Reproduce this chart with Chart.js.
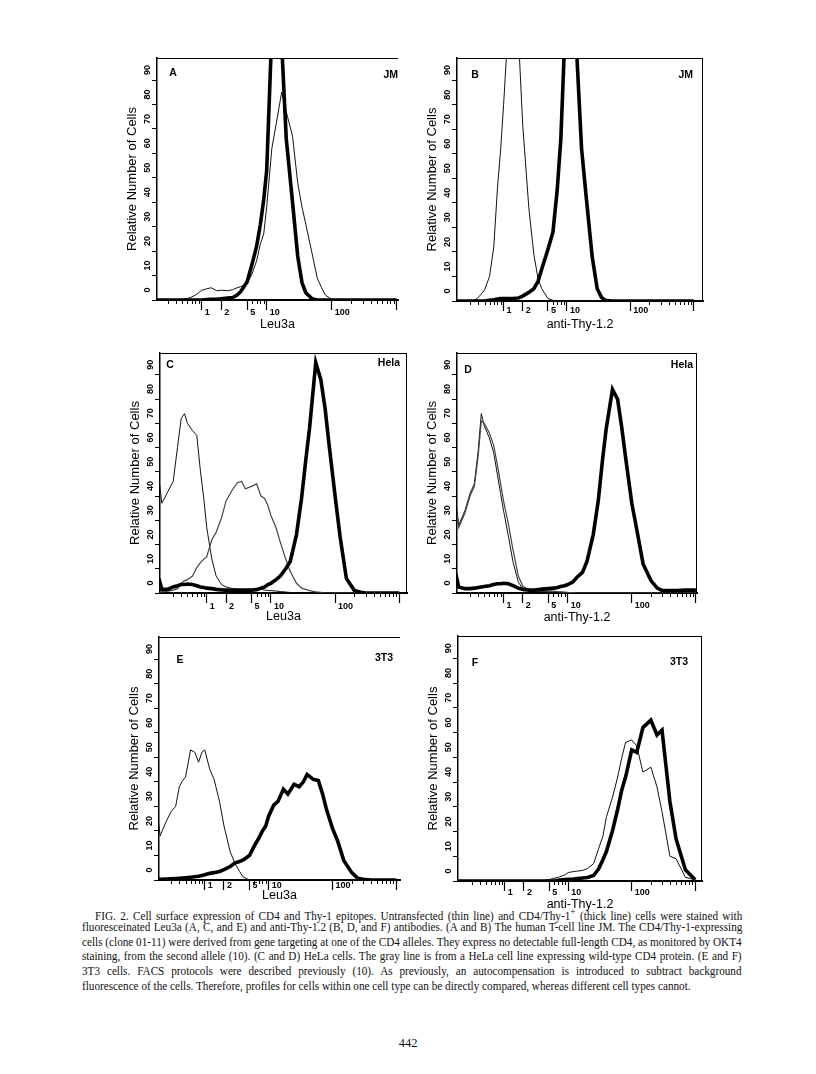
<!DOCTYPE html>
<html>
<head>
<meta charset="utf-8">
<script src="https://cdn.jsdelivr.net/npm/chart.js@4.4.0/dist/chart.umd.min.js"></script>
<style>
  body { margin: 0; background: #fff; width: 816px; height: 1074px; position: relative; overflow: hidden; }
  canvas { position: absolute; }
  #caption { position: absolute; left: 82px; top: 905px; width: 660px; font-family: 'Liberation Serif', 'Times New Roman', serif; font-size: 12px; line-height: 14.8px; color: #111; }
  .ln { white-space: nowrap; height: 14.8px; }
  .ln span { display: inline-block; transform-origin: 0 0; }
  #page { position: absolute; left: 0; width: 816px; top: 1036px; text-align: center; font-family: 'Liberation Serif', serif; font-size: 12.5px; color: #111; }
</style>
</head>
<body>
<div id="caption"></div>
<div id="page">442</div>
<script>
// fluorescence intensity (x) shared by every histogram
const intensity = [0.18, 0.2, 0.25, 0.3, 0.35, 0.4, 0.45, 0.5, 0.6, 0.7,
  0.8, 0.9, 1, 1.2, 1.4, 1.7, 2, 2.5, 3, 3.5,
  4, 5, 6, 7, 8, 9, 10, 12, 14, 17,
  20, 25, 30, 35, 40, 50, 60, 70, 80, 100,
  120, 150, 200, 250, 300, 400, 500, 700, 1000];

// relative number of cells, one array per curve
const jmLeu3aThin = [0,0,0,0,0,0,0.2,0.3,0.6,1.2, 2,3,4,4.6,5,3.8,4,3.8,4.2,5, 5.5,6.5,11,16,23,27,38,62,72,85, 77,67,48,38,31,19,9,5,2,0.3, 0,0,0,0,0,0,0,0,0];
const jmLeu3aThick = [0,0,0,0,0,0,0,0,0,0, 0,0,0,0.2,0.3,0.3,0.5,0.8,1,2, 3.5,7.5,15,22,31,41,53,110,110,105, 66,40,18,7,3,0.5,0,0,0,0, 0,0,0,0,0,0,0,0,0];
const jmThyThin = [0,0,0,0,0.3,1.5,3,4.5,10,22, 46,62,80,115,115,110,72,38,19,9, 5,1,0.3,0,0,0,0,0,0,0, 0,0,0,0,0,0,0,0,0,0, 0,0,0,0,0,0,0,0,0];
const jmThyThick = [0,0,0,0,0,0,0,0,0.3,0.5, 0.8,1,1,1,1,1.2,2,3.5,5,8, 13,21,28,45,66,100,110,110,105,62, 43,18,5,1.5,0.3,0,0,0,0,0, 0,0,0,0,0,0,0,0,0];
const helaLeu3aThin = [47,37,42,46,60,72,74,70,67,65, 50,39,27,14,7,3.5,2.5,1.8,1.5,1.5, 1.5,1.5,1.5,1.5,1.2,1,1,0.8,0.6,0.4, 0.2,0,0,0,0,0,0,0,0,0, 0,0,0,0,0,0,0,0,0];
const helaLeu3aGray = [0.5,0.5,0.8,1.2,1.8,4,5,5.5,7,10.5, 12.5,14,15,22,25,31,38,42.5,45.5,46, 43,44,45,40,39,36,32,27,21,14, 9,4,2,1.5,1,0.5,0.3,0,0,0, 0,0,0,0,0,0,0,0,0];
const helaLeu3aThick = [6,1.5,1.6,2.5,3,3.5,3.5,3.7,3.5,3, 2.5,2.3,2,1.8,1.5,1.3,1.2,1.2,1.2,1.2, 1.2,1.2,1.4,2,2.5,3.5,4,5.5,7,10, 13,24,39,55,68,95,88,76,62,40, 23,6,1,0.3,0,0,0,0,0];
const helaThyThin = [38,28,34,41,45,58,74,69,64,58, 49,41,34,23,13,4.5,1.6,1,0.8,0.7, 0.6,0.5,0.4,0.3,0.3,0.2,0,0,0,0, 0,0,0,0,0,0,0,0,0,0, 0,0,0,0,0,0,0,0,0];
const helaThyGray = [36,27,33,40,44,56,71,70,66,61, 53,45,38,28,18,7,2.8,1.3,1.2,1, 1,0.8,0.8,0.6,0.5,0.4,0.3,0.2,0,0, 0,0,0,0,0,0,0,0,0,0, 0,0,0,0,0,0,0,0,0];
const helaThyThick = [8,2.5,1.8,1.8,2,2.3,2.5,2.7,3,3.5, 3.8,3.8,4,3.8,3,2,1.5,1.2,1.2,1.4, 1.6,1.8,2,2.3,2.8,3,3.5,4.5,6.5,8.5, 13,24,38,55,68,84,80,68,56,37, 26,12,5,2,1,1,1,1.2,1.2];
const t3Leu3aThin = [28,18,24,28,30,38,40.5,42,53,52, 48,52,53,45,41,32,22,11.5,6.6,3.5, 1.2,0,0,0,0,0,0,0,0,0, 0,0,0,0,0,0,0,0,0,0, 0,0,0,0,0,0,0,0,0];
const t3Leu3aThick = [0.3,0.3,0.4,0.5,0.6,0.7,0.8,0.9,1.1,1.3, 1.5,1.8,2.1,2.7,3,3.5,4.2,5.5,7,7.5, 8.2,10,14,17,20,22,26,30.5,32,37, 35,39,38,40,43,41,40.5,35,29,21, 16,8,3,0.7,0.3,0,0,0,0];
const t3ThyThin = [0,0,0,0,0,0,0,0,0,0, 0,0,0,0,0,0,0,0,0,0, 0.2,0.6,1.1,1.5,2,2.6,3.4,3.8,4,4.3, 5,7,13,18,26,34,42,50,56,57, 54.6,44,46,38,28,10,9,1.5,0.5];
const t3ThyThick = [0,0,0,0,0,0,0,0,0,0, 0,0,0,0,0,0,0,0,0,0, 0,0,0,0.3,0.5,0.6,0.7,0.8,1,1.2, 1.4,2.2,4.8,8.5,12,20.5,29,37,42,53, 52,62,65,59,61,32,17,4.5,0.5];

// axis ticks
const majorTicks = [1, 2, 5, 10, 100, 1000];
const minorTicks = [0.3, 0.4, 0.5, 0.6, 0.7, 0.8, 0.9, 6, 7, 8, 9, 200, 300, 400, 500, 600, 700, 800, 900];
const yTicks = [0, 10, 20, 30, 40, 50, 60, 70, 80, 90];

const captionLines = [
  'FIG. 2. Cell surface expression of CD4 and Thy-1 epitopes. Untransfected (thin line) and CD4/Thy-1<sup>+</sup> (thick line) cells were stained with',
  'fluoresceinated Leu3a (A, C, and E) and anti-Thy-1.2 (B, D, and F) antibodies. (A and B) The human T-cell line JM. The CD4/Thy-1-expressing',
  'cells (clone 01-11) were derived from gene targeting at one of the CD4 alleles. They express no detectable full-length CD4, as monitored by OKT4',
  'staining, from the second allele (10). (C and D) HeLa cells. The gray line is from a HeLa cell line expressing wild-type CD4 protein. (E and F)',
  '3T3 cells. FACS protocols were described previously (10). As previously, an autocompensation is introduced to subtract background',
  'fluorescence of the cells. Therefore, profiles for cells within one cell type can be directly compared, whereas different cell types cannot.'
];

const thin = { color: '#111', width: 1 };
const gray = { color: '#444', width: 1.2 };
const thick = { color: '#000', width: 3.6 };

const panels = [
  { letter: 'A', cell: 'JM', xTitle: 'Leu3a', box: [157, 58, 398, 300], xRange: [0.205, 1050], right: false,
    curves: [[jmLeu3aThick, thick], [jmLeu3aThin, thin]], lab: [16, 15, 0, 17], tickPad: -3.3, titleDy: 25 },
  { letter: 'B', cell: 'JM', xTitle: 'anti-Thy-1.2', box: [457, 58, 703, 301], xRange: [0.184, 1400], right: true,
    curves: [[jmThyThick, thick], [jmThyThin, thin]], lab: [18, 17, 10, 17], tickPad: -6, titleDy: 24 },
  { letter: 'C', cell: 'Hela', xTitle: 'Leu3a', box: [160, 353, 407, 593], xRange: [0.187, 1320], right: true,
    curves: [[helaLeu3aThick, thick], [helaLeu3aGray, gray], [helaLeu3aThin, thin]], lab: [10, 12, 7, 10], tickPad: -2.3, titleDy: 24 },
  { letter: 'D', cell: 'Hela', xTitle: 'anti-Thy-1.2', box: [457, 353, 697, 593], xRange: [0.188, 1040], right: true,
    curves: [[helaThyThick, thick], [helaThyGray, gray], [helaThyThin, thin]], lab: [11, 17, 4, 12], tickPad: -3, titleDy: 25 },
  { letter: 'E', cell: '3T3', xTitle: 'Leu3a', box: [159, 637, 400, 880], xRange: [0.192, 1140], right: false,
    curves: [[t3Leu3aThick, thick], [t3Leu3aThin, thin]], lab: [21, 23, 7, 21], tickPad: -10, titleDy: 16 },
  { letter: 'F', cell: '3T3', xTitle: 'anti-Thy-1.2', box: [458, 636, 702, 881], xRange: [0.183, 1280], right: true,
    curves: [[t3ThyThick, thick], [t3ThyThin, thin]], lab: [17, 27, 14, 26], tickPad: -4.3, titleDy: 24 }
];

const AXIS_W = 45, AXIS_H = 40, PAD_T = 10, PAD_R = 12;
const sans = '"Liberation Sans", Arial, sans-serif';

// frame, minor ticks, rotated y labels and panel tags
const decor = {
  id: 'decor',
  afterDraw(chart, args, opts) {
    const { ctx, chartArea: a, scales: { x, y } } = chart;
    ctx.save();
    ctx.strokeStyle = '#000';
    ctx.lineWidth = 1;
    ctx.beginPath();
    ctx.moveTo(a.left, a.top + 0.5);
    ctx.lineTo(a.right, a.top + 0.5);
    if (opts.right) {
      ctx.moveTo(a.right - 0.5, a.top);
      ctx.lineTo(a.right - 0.5, a.bottom);
    }
    minorTicks.forEach(v => {
      const px = Math.round(x.getPixelForValue(v)) + 0.5;
      ctx.moveTo(px, a.bottom);
      ctx.lineTo(px, a.bottom + 4);
    });
    ctx.stroke();

    ctx.fillStyle = '#000';
    ctx.font = 'bold 9px ' + sans;
    ctx.textAlign = 'center';
    ctx.textBaseline = 'middle';
    yTicks.forEach(v => {
      ctx.save();
      ctx.translate(a.left - 9, y.getPixelForValue(v) - 10);
      ctx.rotate(-Math.PI / 2);
      ctx.fillText(String(v), 0, 0);
      ctx.restore();
    });

    const [ldx, ldy, cdx, cdy] = opts.lab;
    ctx.font = 'bold 10.5px ' + sans;
    ctx.fillText(opts.letter, a.left + ldx, a.top + ldy);
    ctx.textAlign = 'right';
    ctx.fillText(opts.cell, a.right - cdx, a.top + cdy);
    ctx.restore();
  }
};

panels.forEach(p => {
  const [l, t, r, b] = p.box;
  const canvas = document.createElement('canvas');
  canvas.width = r - l + AXIS_W + PAD_R;
  canvas.height = b - t + AXIS_H + PAD_T;
  canvas.style.left = (l - AXIS_W) + 'px';
  canvas.style.top = (t - PAD_T) + 'px';
  document.body.appendChild(canvas);

  new Chart(canvas.getContext('2d'), {
    type: 'line',
    data: {
      datasets: p.curves.map(([values, style]) => ({
        data: intensity.map((v, i) => ({ x: v, y: values[i] })),
        borderColor: style.color,
        borderWidth: style.width,
        pointRadius: 0,
        tension: 0,
        fill: false
      }))
    },
    options: {
      responsive: false,
      animation: false,
      devicePixelRatio: 1,
      layout: { padding: { top: PAD_T, right: PAD_R, left: 0, bottom: 0 } },
      plugins: {
        legend: { display: false },
        tooltip: { enabled: false },
        decor: { letter: p.letter, cell: p.cell, right: p.right, lab: p.lab }
      },
      scales: {
        x: {
          type: 'logarithmic',
          min: p.xRange[0],
          max: p.xRange[1],
          afterBuildTicks: s => { s.ticks = majorTicks.map(v => ({ value: v })); },
          afterFit: s => { s.height = AXIS_H; },
          grid: { drawOnChartArea: false, drawTicks: true, tickLength: 10, tickWidth: 1.2, tickColor: '#000' },
          border: { display: true, width: 2, color: '#000' },
          ticks: {
            autoSkip: false, maxRotation: 0, minRotation: 0, align: 'start', labelOffset: 3,
            padding: p.tickPad, color: '#000', font: { family: sans, size: 9, weight: 'bold' },
            callback: v => (v === 1000 ? '' : String(v))
          },
          title: { display: true, text: p.xTitle, color: '#000', font: { family: sans, size: 12.5 },
            padding: { top: 0, bottom: 32.5 - p.titleDy } }
        },
        y: {
          type: 'linear',
          min: 0,
          max: 99,
          afterBuildTicks: s => { s.ticks = yTicks.map(v => ({ value: v })); },
          afterFit: s => { s.width = AXIS_W; },
          grid: { drawOnChartArea: false, drawTicks: true, tickLength: 5, tickWidth: 1, tickColor: '#000' },
          border: { display: true, width: 1.5, color: '#000' },
          ticks: { display: false },
          title: { display: true, text: 'Relative Number of Cells', color: '#000', font: { family: sans, size: 13 },
            padding: { top: 12.5, bottom: 0 } }
        }
      }
    },
    plugins: [decor]
  });
});

// caption: justified lines, condensed to the column width
const cap = document.getElementById('caption');
const capWidth = 660;
const spans = captionLines.map((html, i) => {
  const d = document.createElement('div');
  d.className = 'ln';
  if (i === 0) d.style.paddingLeft = '13px';
  const s = document.createElement('span');
  s.innerHTML = html;
  d.appendChild(s);
  cap.appendChild(d);
  return s;
});
const targets = spans.map((s, i) => (i === 0 ? capWidth - 13 : capWidth));
const widths = spans.map(s => s.offsetWidth);
const squeeze = Math.min(1, ...widths.map((w, i) => targets[i] / w));
spans.forEach((s, i) => {
  s.style.transform = 'scaleX(' + squeeze + ')';
  if (i < spans.length - 1) {
    const gaps = (s.textContent.match(/ /g) || []).length;
    s.style.wordSpacing = ((targets[i] / squeeze - widths[i]) / gaps) + 'px';
  }
});
</script>
</body>
</html>
